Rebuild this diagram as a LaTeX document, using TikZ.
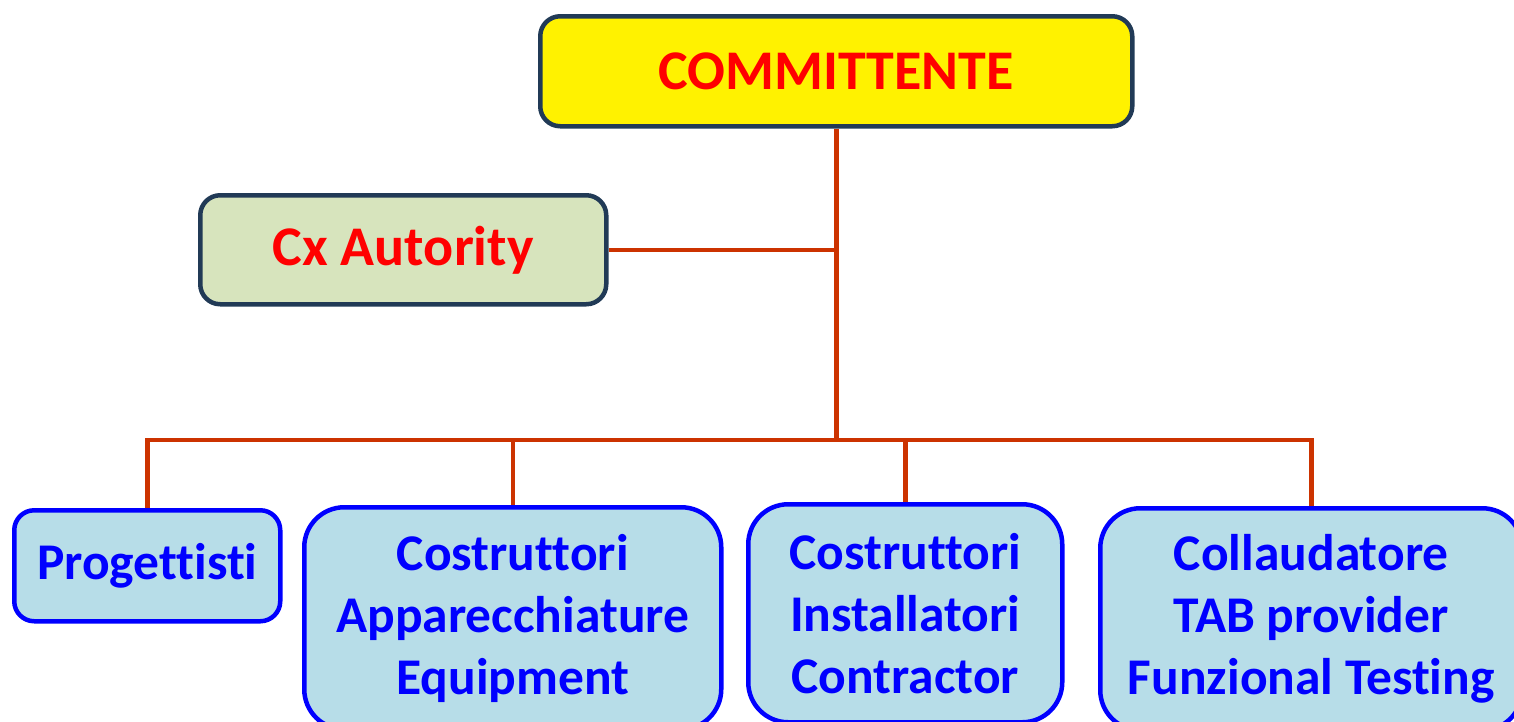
\documentclass[tikz,border=0pt]{standalone}
\usepackage{fontspec}
\setmainfont{Carlito}[Ligatures=NoCommon]
\definecolor{navy}{HTML}{213A56}
\definecolor{conn}{HTML}{CC3300}
\definecolor{cxgreen}{HTML}{D7E4BD}
\definecolor{lblue}{HTML}{B7DDE8}
\begin{document}
\begin{tikzpicture}[x=1pt,y=-1pt,
  lbl/.style={font=\bfseries\fontsize{51.5}{62}\selectfont, align=center, inner sep=0pt},
  topbox/.style={lbl, font=\bfseries\fontsize{56}{62}\selectfont, draw=navy, line width=4.5pt, rounded corners=20pt, text=red, anchor=north west},
  botbox/.style={lbl, draw=blue, line width=4.5pt, fill=lblue, text=blue, anchor=north west},
  connline/.style={draw=conn, line width=4.5pt}]
\clip (0,0) rectangle (1514,721);
\node[topbox, fill=yellow, minimum width=592pt, minimum height=110pt] (comm) at (538,14) {COMMITTENTE};
\node[topbox, fill=cxgreen, minimum width=406pt, minimum height=109pt] (cx) at (198,193) {Cx Autority};
\node[botbox, rounded corners=20pt, minimum width=266pt, minimum height=111pt] (prog) at (12,508) {Progettisti};
\node[botbox, rounded corners=40pt, minimum width=417pt, minimum height=222pt] (app) at (302,505) {Costruttori\\Apparecchiature\\Equipment};
\node[botbox, rounded corners=40pt, minimum width=314pt, minimum height=218pt] (inst) at (746,502) {Costruttori\\Installatori\\Contractor};
\node[botbox, rounded corners=40pt, minimum width=422pt, minimum height=222pt] (coll) at (1098,506) {Collaudatore\\TAB provider\\Funzional Testing};
\coordinate (j) at (comm.south |- 0,440);
\coordinate (bl) at (prog.north |- j);
\coordinate (br) at (coll.north |- j);
\draw[connline] (comm.south) -- (j);
\draw[connline] (cx.east) -- (cx.east -| j);
\draw[connline, line cap=rect] (bl) -- (br);
\draw[connline] (bl) -- (prog.north);
\draw[connline] (app.north |- j) -- (app.north);
\draw[connline] (inst.north |- j) -- (inst.north);
\draw[connline] (br) -- (coll.north);
\end{tikzpicture}
\end{document}
